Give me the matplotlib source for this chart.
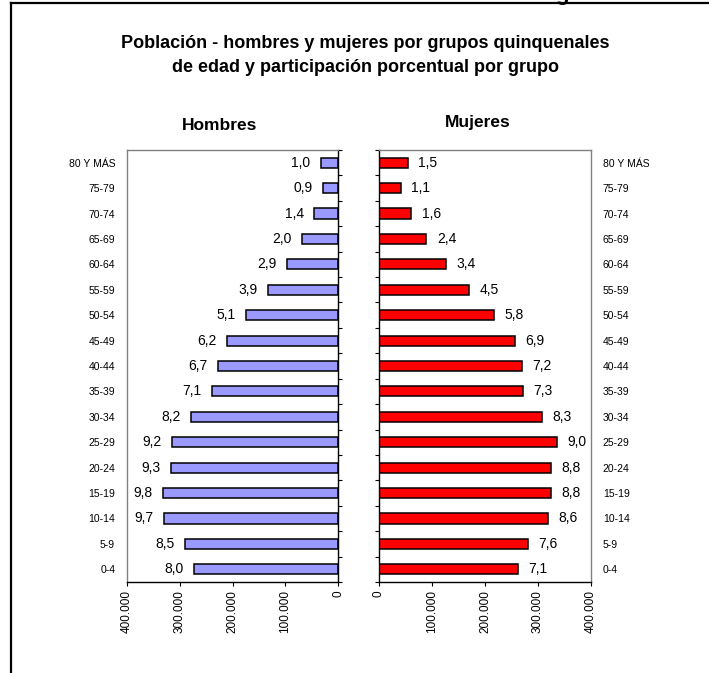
import matplotlib.pyplot as plt
import matplotlib.ticker as mticker
from matplotlib.lines import Line2D
import numpy as np

plt.rcParams['font.family'] = ['Liberation Sans', 'DejaVu Sans']

# Age groups, bottom to top
grupos = ['0-4', '5-9', '10-14', '15-19', '20-24', '25-29', '30-34', '35-39',
          '40-44', '45-49', '50-54', '55-59', '60-64', '65-69', '70-74', '75-79',
          '80 Y MÁS']

# Population
hombres = [272400, 289400, 330000, 331800, 317200, 314000, 278700, 238900,
           228100, 210400, 174400, 132000, 97300, 67600, 44900, 29000, 32800]
mujeres = [262100, 281000, 319300, 324400, 323700, 335000, 306700, 270800,
           268900, 256400, 216700, 169500, 126000, 89400, 61000, 41600, 54200]

# Percentage share per group
pct_hombres = ['8,0', '8,5', '9,7', '9,8', '9,3', '9,2', '8,2', '7,1', '6,7',
               '6,2', '5,1', '3,9', '2,9', '2,0', '1,4', '0,9', '1,0']
pct_mujeres = ['7,1', '7,6', '8,6', '8,8', '8,8', '9,0', '8,3', '7,3', '7,2',
               '6,9', '5,8', '4,5', '3,4', '2,4', '1,6', '1,1', '1,5']

x_ticks = [0, 100000, 200000, 300000, 400000]

W, H = 709, 673
fig = plt.figure(figsize=(W / 100, H / 100), dpi=100)

# outer frame (left and top only)
fig.add_artist(Line2D([11 / W, 11 / W], [0, 1 - 3 / H], color='black', lw=1.6))
fig.add_artist(Line2D([11 / W, 1], [1 - 3 / H, 1 - 3 / H], color='black', lw=1.6))
fig.text(562 / W, 1.0, 'g', fontsize=16, fontweight='bold', ha='center', va='baseline')

fig.text(365 / W, 1 - 43 / H, 'Población - hombres y mujeres por grupos quinquenales',
         fontsize=13, fontweight='bold', ha='center', va='center')
fig.text(365 / W, 1 - 68 / H, 'de edad y participación porcentual por grupo',
         fontsize=13, fontweight='bold', ha='center', va='center')

bottom = 1 - 582 / H
height = 432 / H
ax1 = fig.add_axes([127 / W, bottom, 211 / W, height])
ax2 = fig.add_axes([379 / W, bottom, 212 / W, height])

y = np.arange(len(grupos))
fmt = mticker.FuncFormatter(lambda v, p: f'{int(v):,}'.replace(',', '.'))

ax1.barh(y, hombres, height=0.4, color='#9999FF', edgecolor='black', linewidth=1.1)
ax2.barh(y, mujeres, height=0.4, color='#FF0000', edgecolor='black', linewidth=1.1)

for yi, v, t in zip(y, hombres, pct_hombres):
    ax1.annotate(t, (v, yi), xytext=(-7.5, 0), textcoords='offset points',
                 ha='right', va='center', fontsize=10)
for yi, v, t in zip(y, mujeres, pct_mujeres):
    ax2.annotate(t, (v, yi), xytext=(7.5, 0), textcoords='offset points',
                 ha='left', va='center', fontsize=10)

ax1.set_xlim(400000, 0)
ax2.set_xlim(0, 400000)

for ax in (ax1, ax2):
    ax.set_ylim(-0.5, len(grupos) - 0.5)
    ax.set_xticks(x_ticks)
    ax.xaxis.set_major_formatter(fmt)
    ax.tick_params(axis='x', direction='out', length=3, width=0.8,
                   labelsize=8.5, labelrotation=90, pad=3)
    ax.set_yticks(np.arange(-0.5, len(grupos), 1.0))
    ax.set_yticks(y, minor=True)
    ax.set_yticklabels(grupos, minor=True)
    ax.spines['bottom'].set_color('black')

# left chart: category axis at 0 on the right, labels far left
ax1.tick_params(axis='y', which='major', left=False, right=True, labelleft=False,
                direction='out', length=3, width=0.8)
ax1.tick_params(axis='y', which='minor', left=False, right=False, labelleft=True,
                labelsize=7.5, pad=6.5)
ax1.spines['left'].set_color('#808080')
ax1.spines['top'].set_color('#808080')
ax1.spines['right'].set_color('black')

ax2.tick_params(axis='y', which='major', left=True, right=False, labelleft=False,
                direction='out', length=3, width=0.8)
ax2.tick_params(axis='y', which='minor', left=False, right=False, labelleft=False,
                labelright=True, labelsize=7.5, pad=6.5)
ax2.spines['right'].set_color('#808080')
ax2.spines['top'].set_color('#808080')
ax2.spines['left'].set_color('black')

for ax in (ax1, ax2):
    for s in ax.spines.values():
        s.set_linewidth(1.0)

fig.text(220 / W, 1 - 126 / H, 'Hombres', fontsize=12.5, fontweight='bold',
         ha='center', va='center')
fig.text(478 / W, 1 - 123 / H, 'Mujeres', fontsize=12.5, fontweight='bold',
         ha='center', va='center')

fig.savefig('out.png', dpi=100)
